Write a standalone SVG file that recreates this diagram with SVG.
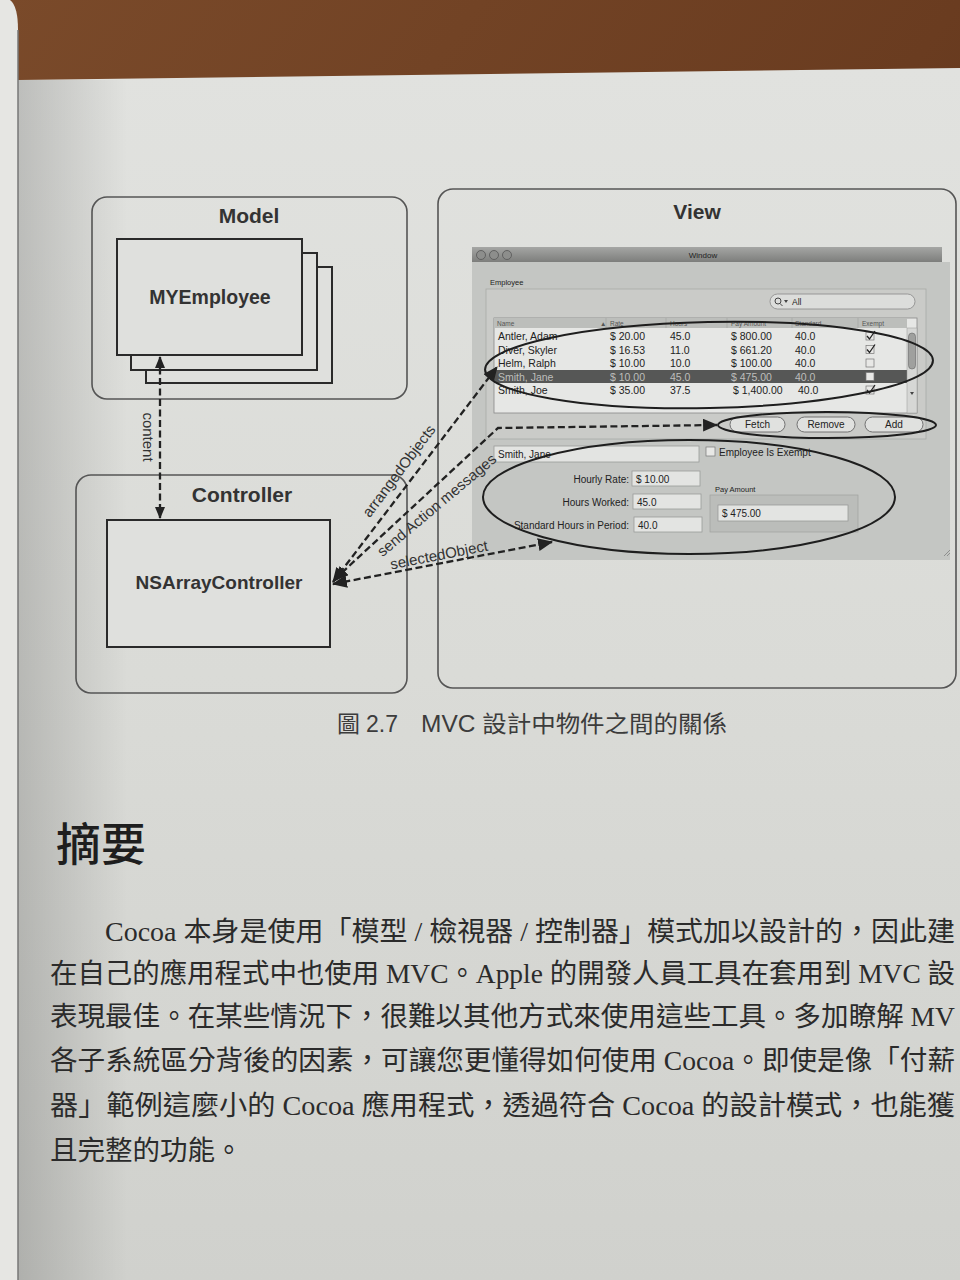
<svg xmlns="http://www.w3.org/2000/svg" width="960" height="1280" viewBox="0 0 960 1280">
  <defs>
    <linearGradient id="page" x1="0" y1="0" x2="0" y2="1">
      <stop offset="0" stop-color="#e1e2df"/>
      <stop offset="0.5" stop-color="#dadbd7"/>
      <stop offset="1" stop-color="#d0d1cd"/>
    </linearGradient>
    <linearGradient id="spine" x1="0" y1="0" x2="1" y2="0">
      <stop offset="0" stop-color="#000" stop-opacity="0.2"/>
      <stop offset="1" stop-color="#000" stop-opacity="0"/>
    </linearGradient>
    <linearGradient id="desk" x1="0" y1="0" x2="1" y2="1">
      <stop offset="0" stop-color="#7a4a2a"/>
      <stop offset="0.5" stop-color="#6a3c20"/>
      <stop offset="1" stop-color="#4e2a16"/>
    </linearGradient>
    <linearGradient id="titlebar" x1="0" y1="0" x2="0" y2="1">
      <stop offset="0" stop-color="#a5a6a4"/>
      <stop offset="1" stop-color="#7d7e7c"/>
    </linearGradient>
    <marker id="ah" viewBox="0 0 12 10" refX="11" refY="5" markerWidth="12" markerHeight="10" markerUnits="userSpaceOnUse" orient="auto-start-reverse">
      <path d="M0,0 L12,5 L0,10 z" fill="#222"/>
    </marker>
    <marker id="ahBig" viewBox="0 0 14 12" refX="13" refY="6" markerWidth="15" markerHeight="13" markerUnits="userSpaceOnUse" orient="auto-start-reverse">
      <path d="M0,0 L14,6 L0,12 z" fill="#222"/>
    </marker>
    <style>
      .group { fill: none; stroke: #555; stroke-width: 1.6; }
      .box { fill: #dfe0dd; stroke: #2a2a2a; stroke-width: 2; }
      .title { font-family: "Liberation Sans", Arial, sans-serif; font-weight: bold; fill: #333; text-anchor: middle; }
      .conn { fill: none; stroke: #222; stroke-width: 2.3; stroke-dasharray: 7 3.5; }
      .lbl { font-family: "Liberation Sans", Arial, sans-serif; font-size: 15px; fill: #333; text-anchor: middle; }
      .ui { font-family: "Liberation Sans", Arial, sans-serif; fill: #222; }
      .cell { font-family: "Liberation Sans", Arial, sans-serif; font-size: 10.5px; fill: #222; }
      .hdr { font-family: "Liberation Sans", Arial, sans-serif; font-size: 6.5px; fill: #555; }
      .field { fill: #e3e4e2; stroke: #9a9b99; stroke-width: 0.8; }
      .btn { fill: #e0e1df; stroke: #666; stroke-width: 0.9; }
      .chk { fill: #e8e8e6; stroke: #777; stroke-width: 0.7; }
      .ell { fill: none; stroke: #1e1e1e; stroke-width: 2; }
      .body { font-family: "Liberation Serif", "Noto Sans CJK TC", serif; font-size: 27.5px; fill: #2b2b2b; }
    </style>
  </defs>

  <!-- background: desk, page -->
  <rect x="0" y="0" width="960" height="1280" fill="url(#desk)"/>
  <path d="M18,80 L960,68 L960,1280 L18,1280 z" fill="url(#page)"/>
  <rect x="18" y="80" width="110" height="1200" fill="url(#spine)" opacity="0.8"/>
  <path d="M0,0 L10,0 Q18,6 18,30 L18,1280 L0,1280 z" fill="#e6e6e3"/>
  <line x1="18" y1="30" x2="18" y2="1280" stroke="#777" stroke-width="1.5"/>

  <!-- Model group -->
  <g id="model">
    <rect class="group" x="92" y="197" width="315" height="202" rx="15"/>
    <text class="title" x="249" y="223" font-size="21">Model</text>
  </g>
  <g id="myemployee">
    <rect class="box" x="146" y="267" width="186" height="116"/>
    <rect class="box" x="131" y="253" width="186" height="117"/>
    <rect class="box" x="117" y="239" width="185" height="116"/>
    <text class="title" x="210" y="304" font-size="19.5">MYEmployee</text>
  </g>

  <!-- Controller group -->
  <g id="controller">
    <rect class="group" x="76" y="475" width="331" height="218" rx="15"/>
    <text class="title" x="242" y="502" font-size="21">Controller</text>
  </g>
  <g id="nsarraycontroller">
    <rect class="box" x="107" y="520" width="223" height="127"/>
    <text class="title" x="219" y="589" font-size="19">NSArrayController</text>
  </g>

  <!-- View group with window screenshot -->
  <g id="view">
    <rect class="group" x="438" y="189" width="518" height="499" rx="15"/>
    <text class="title" x="697" y="219" font-size="21">View</text>

    <g id="window">
      <rect x="472" y="262" width="478" height="298" fill="#c4c6c3"/>
      <rect x="472" y="247" width="470" height="15" fill="url(#titlebar)"/>
      <circle cx="481" cy="255" r="4.5" fill="#8d8e8c" stroke="#555" stroke-width="0.8"/>
      <circle cx="494" cy="255" r="4.5" fill="#8d8e8c" stroke="#555" stroke-width="0.8"/>
      <circle cx="507" cy="255" r="4.5" fill="#8d8e8c" stroke="#555" stroke-width="0.8"/>
      <text class="ui" x="703" y="258" font-size="8" text-anchor="middle">Window</text>

      <text class="ui" x="490" y="285" font-size="7.5">Employee</text>
      <rect x="486" y="289" width="440" height="150" fill="#cacbc8" stroke="#a9aaa7" stroke-width="0.8"/>

      <rect x="770" y="294" width="145" height="15" rx="7.5" fill="#dcdddb" stroke="#888" stroke-width="0.8"/>
      <circle cx="778" cy="301" r="3" fill="none" stroke="#444" stroke-width="1"/>
      <line x1="780" y1="303.5" x2="782.5" y2="306" stroke="#444" stroke-width="1"/>
      <path d="M784,300 L788,300 L786,303 z" fill="#444"/>
      <text class="ui" x="792" y="305" font-size="8.5" fill="#555">All</text>

      <!-- table -->
      <rect x="494" y="318" width="423" height="95" fill="#e6e7e5" stroke="#888" stroke-width="0.8"/>
      <rect x="494" y="318" width="413" height="10" fill="#bcbebb"/>
      <g stroke="#999" stroke-width="0.5">
        <line x1="606" y1="318" x2="606" y2="328"/>
        <line x1="666" y1="318" x2="666" y2="328"/>
        <line x1="727" y1="318" x2="727" y2="328"/>
        <line x1="792" y1="318" x2="792" y2="328"/>
        <line x1="858" y1="318" x2="858" y2="328"/>
      </g>
      <text class="hdr" x="497" y="326">Name</text>
      <text class="hdr" x="600" y="326">▲</text>
      <text class="hdr" x="610" y="326">Rate</text>
      <text class="hdr" x="670" y="326">Hours</text>
      <text class="hdr" x="731" y="326">Pay Amount</text>
      <text class="hdr" x="795" y="326">Standard</text>
      <text class="hdr" x="862" y="326">Exempt</text>

      <rect x="494" y="370" width="413" height="13" fill="#565756"/>

      <g class="cell">
        <text x="498" y="340">Antler, Adam</text>
        <text x="610" y="340">$ 20.00</text>
        <text x="670" y="340">45.0</text>
        <text x="731" y="340">$ 800.00</text>
        <text x="795" y="340">40.0</text>

        <text x="498" y="353.5">Diver, Skyler</text>
        <text x="610" y="353.5">$ 16.53</text>
        <text x="670" y="353.5">11.0</text>
        <text x="731" y="353.5">$ 661.20</text>
        <text x="795" y="353.5">40.0</text>

        <text x="498" y="367">Helm, Ralph</text>
        <text x="610" y="367">$ 10.00</text>
        <text x="670" y="367">10.0</text>
        <text x="731" y="367">$ 100.00</text>
        <text x="795" y="367">40.0</text>

        <text x="498" y="380.5" fill="#bdbebc">Smith, Jane</text>
        <text x="610" y="380.5" fill="#bdbebc">$ 10.00</text>
        <text x="670" y="380.5" fill="#bdbebc">45.0</text>
        <text x="731" y="380.5" fill="#bdbebc">$ 475.00</text>
        <text x="795" y="380.5" fill="#bdbebc">40.0</text>

        <text x="498" y="394">Smith, Joe</text>
        <text x="610" y="394">$ 35.00</text>
        <text x="670" y="394">37.5</text>
        <text x="733" y="394">$ 1,400.00</text>
        <text x="798" y="394">40.0</text>
      </g>
      <g>
        <rect class="chk" x="866" y="332" width="8" height="8"/>
        <path d="M867,336 L869.5,339 L875,331" fill="none" stroke="#222" stroke-width="1.3"/>
        <rect class="chk" x="866" y="345.5" width="8" height="8"/>
        <path d="M867,349.5 L869.5,352.5 L875,344.5" fill="none" stroke="#222" stroke-width="1.3"/>
        <rect class="chk" x="866" y="359" width="8" height="8"/>
        <rect class="chk" x="866" y="372.5" width="8" height="8"/>
        <rect class="chk" x="866" y="386" width="8" height="8"/>
        <path d="M867,390 L869.5,393 L875,385" fill="none" stroke="#222" stroke-width="1.3"/>
      </g>
      <rect x="907" y="328" width="10" height="85" fill="#d6d7d5" stroke="#999" stroke-width="0.5"/>
      <rect x="908.5" y="333" width="7" height="36" rx="3.5" fill="#9fa09e" stroke="#666" stroke-width="0.6"/>
      <path d="M910,392 L914,392 L912,395 z" fill="#444"/>

      <!-- buttons -->
      <rect class="btn" x="730" y="417" width="55" height="15" rx="7.5"/>
      <text class="ui" x="757.5" y="428" font-size="10" text-anchor="middle">Fetch</text>
      <rect class="btn" x="797" y="417" width="58" height="15" rx="7.5"/>
      <text class="ui" x="826" y="428" font-size="10" text-anchor="middle">Remove</text>
      <rect class="btn" x="865" y="417" width="58" height="15" rx="7.5"/>
      <text class="ui" x="894" y="428" font-size="10" text-anchor="middle">Add</text>

      <!-- detail form -->
      <rect class="field" x="494" y="446" width="205" height="16"/>
      <text class="ui" x="498" y="458" font-size="10">Smith, Jane</text>
      <rect class="chk" x="706" y="447" width="9" height="9"/>
      <text class="ui" x="719" y="455.5" font-size="10">Employee Is Exempt</text>

      <text class="ui" x="629" y="482.5" font-size="10" text-anchor="end">Hourly Rate:</text>
      <rect class="field" x="632" y="471" width="68" height="15"/>
      <text class="ui" x="636" y="482.5" font-size="10">$ 10.00</text>
      <text class="ui" x="629" y="505.5" font-size="10" text-anchor="end">Hours Worked:</text>
      <rect class="field" x="633" y="494" width="68" height="15"/>
      <text class="ui" x="637" y="505.5" font-size="10">45.0</text>
      <text class="ui" x="629" y="528.5" font-size="10" text-anchor="end">Standard Hours in Period:</text>
      <rect class="field" x="634" y="517" width="68" height="15"/>
      <text class="ui" x="638" y="528.5" font-size="10">40.0</text>

      <text class="ui" x="715" y="492" font-size="7.5">Pay Amount</text>
      <rect x="710" y="495" width="148" height="37" fill="#bbbdba" stroke="#a0a19f" stroke-width="0.7"/>
      <rect class="field" x="718" y="505" width="130" height="16"/>
      <text class="ui" x="722" y="517" font-size="10">$ 475.00</text>

      <path d="M944,556 L950,550 M947,556 L950,553" stroke="#777" stroke-width="0.7"/>
    </g>

    <!-- highlight ellipses -->
    <ellipse class="ell" cx="709" cy="365" rx="224" ry="43" transform="rotate(-1.2 709 365)"/>
    <ellipse class="ell" cx="827" cy="425" rx="109" ry="13"/>
    <ellipse class="ell" cx="689" cy="497" rx="206" ry="57"/>
  </g>

  <!-- connectors -->
  <g id="connectors">
    <line class="conn" x1="160" y1="357" x2="160" y2="518" marker-start="url(#ah)" marker-end="url(#ah)"/>
    <line class="conn" x1="333" y1="582" x2="497" y2="367" marker-start="url(#ahBig)" marker-end="url(#ahBig)"/>
    <polyline class="conn" points="334,580 498,428 717,425" marker-start="url(#ahBig)" marker-end="url(#ahBig)"/>
    <line class="conn" x1="333" y1="584" x2="552" y2="542" marker-start="url(#ahBig)" marker-end="url(#ahBig)"/>

    <text class="lbl" x="0" y="0" font-size="13.5" transform="translate(143 437) rotate(90)">content</text>
    <text class="lbl" x="0" y="0" transform="translate(403 474) rotate(-53)">arrangedObjects</text>
    <text class="lbl" x="0" y="0" transform="translate(440 509) rotate(-40)">send Action messages</text>
    <text class="lbl" x="0" y="0" transform="translate(440 560) rotate(-11)">selectedObject</text>
  </g>

  <!-- caption -->
  <g id="caption" font-family="Liberation Sans, Noto Sans CJK TC, sans-serif" font-size="23" fill="#3c3c3c">
    <text x="337" y="732" font-family="Noto Sans CJK TC, sans-serif">圖</text>
    <text x="366" y="732">2.7</text>
    <text x="421" y="732" textLength="306" lengthAdjust="spacingAndGlyphs">MVC 設計中物件之間的關係</text>
  </g>

  <!-- summary heading and paragraph -->
  <text x="56" y="861" font-family="Noto Sans CJK TC, sans-serif" font-size="45" font-weight="500" fill="#1e1e1e">摘要</text>
  <g class="body">
    <text x="105" y="941" textLength="850" lengthAdjust="spacingAndGlyphs">Cocoa 本身是使用「模型 / 檢視器 / 控制器」模式加以設計的，因此建</text>
    <text x="50" y="983" textLength="905" lengthAdjust="spacingAndGlyphs">在自己的應用程式中也使用 MVC。Apple 的開發人員工具在套用到 MVC 設</text>
    <text x="50" y="1026" textLength="905" lengthAdjust="spacingAndGlyphs">表現最佳。在某些情況下，很難以其他方式來使用這些工具。多加瞭解 MV</text>
    <text x="50" y="1070" textLength="905" lengthAdjust="spacingAndGlyphs">各子系統區分背後的因素，可讓您更懂得如何使用 Cocoa。即使是像「付薪</text>
    <text x="50" y="1115" textLength="905" lengthAdjust="spacingAndGlyphs">器」範例這麼小的 Cocoa 應用程式，透過符合 Cocoa 的設計模式，也能獲</text>
    <text x="50" y="1160">且完整的功能。</text>
  </g>
</svg>
